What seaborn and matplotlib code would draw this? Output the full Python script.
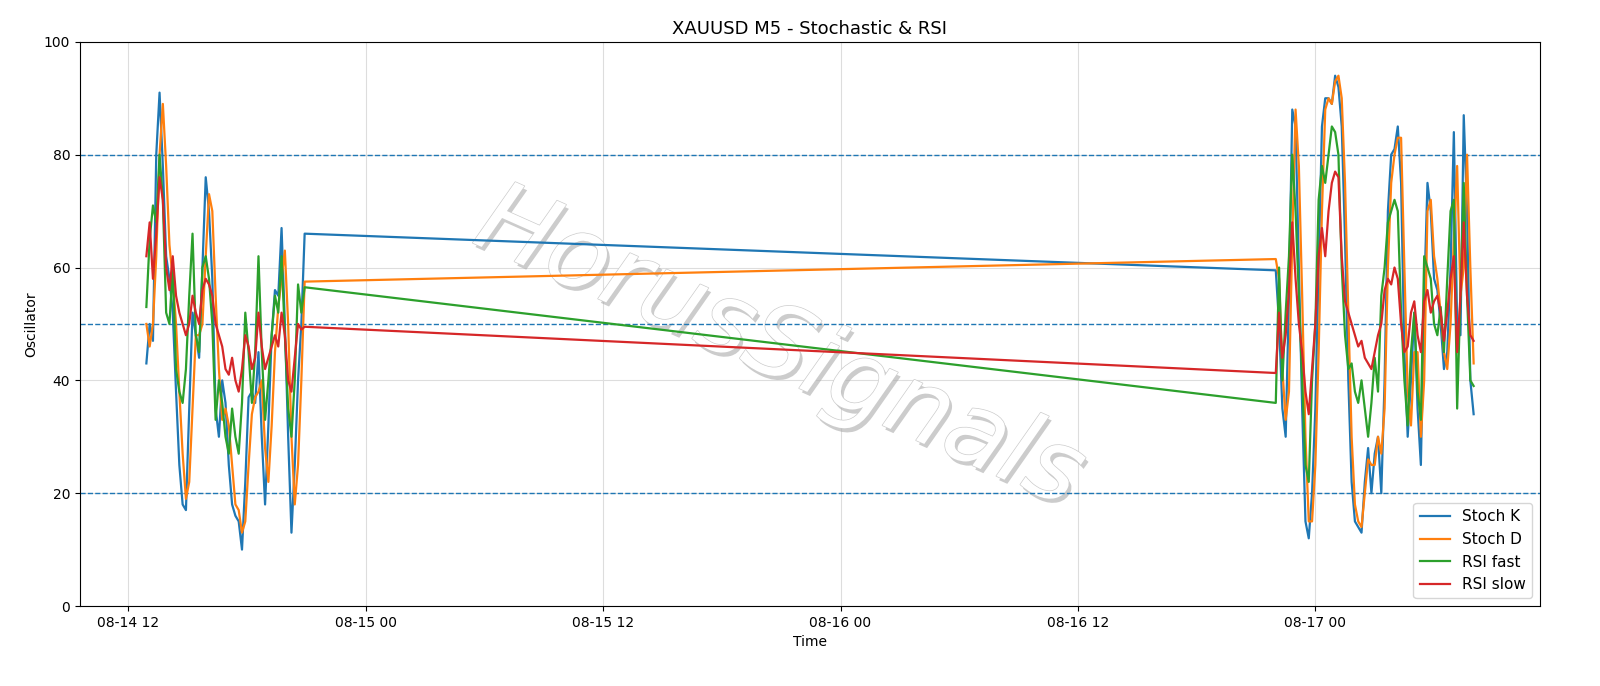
import matplotlib
matplotlib.use("Agg")
import matplotlib.pyplot as plt
import matplotlib.dates as mdates
import matplotlib.patheffects as pe
import seaborn as sns
import pandas as pd
import numpy as np

seg1_start = "2025-08-14 12:55"
seg2_start = "2025-08-16 22:00"

k1 = [43,50,47,80,91,78,62,58,52,38,25,18,17,35,52,48,44,60,76,70,58,35,30,40,36,25,18,16,15,10,22,37,38,36,45,30,18,32,48,56,55,67,50,30,13,25,40,50,66]
d1 = [50,46,50,62,80,89,78,64,58,50,38,27,19,22,35,48,48,50,62,73,70,55,42,33,35,32,25,18,17,13,15,25,34,37,38,40,28,22,32,45,53,58,63,50,30,18,25,40,57.5]
rf1 = [53,65,71,68,80,72,52,50,60,42,38,36,42,55,66,48,45,60,62,58,50,33,40,36,30,27,35,30,27,36,52,45,36,45,62,45,33,40,48,55,52,62,48,35,30,40,57,52,56.5]
rs1 = [62,68,58,66,76,72,60,56,62,55,52,50,48,50,55,52,50,56,58,57,55,50,48,46,42,41,44,40,38,42,48,46,42,44,52,46,42,44,46,48,46,52,48,40,38,44,50,49,49.5]

k2 = [59.5,50,35,30,55,88,85,60,35,15,12,20,35,60,85,90,90,89,94,92,85,65,40,22,15,14,13,22,28,20,27,30,20,40,70,80,81,85,75,45,30,40,52,35,25,55,75,70,58,56,50,42,45,60,84,50,48,87,70,40,34]
d2 = [61.5,58,42,33,38,65,88,78,55,30,15,15,25,45,70,88,90,89,93,94,90,75,52,30,18,15,14,20,26,25,25,30,27,35,60,75,80,83,83,60,38,32,45,45,30,40,70,72,62,58,52,45,42,50,65,78,55,60,80,60,43]
rf2 = [36,60,40,52,62,80,70,55,40,25,22,40,50,72,78,75,80,85,84,80,60,48,42,43,38,36,40,35,30,36,44,38,55,60,68,70,72,70,52,40,32,45,52,38,33,62,60,58,50,48,53,45,58,70,72,35,55,75,55,40,39]
rs2 = [41.3,52,44,48,56,68,58,50,45,38,34,42,50,62,67,62,70,75,77,76,62,54,52,50,48,46,47,44,43,42,45,48,50,56,58,57,60,58,50,45,46,52,54,48,45,54,56,52,54,55,52,47,52,58,62,45,55,68,55,48,47]

t1 = pd.date_range(seg1_start, periods=len(k1), freq="10min")
t2 = pd.date_range(seg2_start, periods=len(k2), freq="10min")
times = t1.append(t2)

df = pd.DataFrame({"Time": times, "Stoch K": k1 + k2, "Stoch D": d1 + d2,
                   "RSI fast": rf1 + rf2, "RSI slow": rs1 + rs2})

fig, ax = plt.subplots(figsize=(16, 6.86), dpi=100)
fig.subplots_adjust(left=0.05, right=0.9625, top=0.939, bottom=0.1166)
colors = ["#1f77b4", "#ff7f0e", "#2ca02c", "#d62728"]
for name, c in zip(["Stoch K", "Stoch D", "RSI fast", "RSI slow"], colors):
    sns.lineplot(data=df, x="Time", y=name, ax=ax, color=c, label=name, linewidth=1.6, zorder=3)

for lvl in [20, 50, 80]:
    ax.axhline(lvl, color="#1f77b4", linestyle="--", linewidth=1, zorder=2)

ax.set_ylim(0, 100)
ax.grid(True, color="#dddddd", linewidth=0.8)
ax.set_axisbelow(True)
ax.xaxis.set_major_locator(mdates.HourLocator(byhour=[0, 12]))
ax.xaxis.set_major_formatter(mdates.DateFormatter("%m-%d %H"))
ax.set_xlabel("Time")
ax.set_ylabel("Oscillator")
ax.set_title("XAUUSD M5 - Stochastic & RSI", fontsize=13)
ax.legend(loc="lower right", fontsize=11)

ax.text(0.479, 0.455, "HorusSignals", transform=ax.transAxes, ha="center", va="center",
        rotation=-24, fontsize=72, style="italic", color="white", zorder=1.5,
        path_effects=[pe.withSimplePatchShadow(offset=(2, -3), shadow_rgbFace="#aaaaaa", alpha=0.6),
                      pe.withStroke(linewidth=1.0, foreground="#cccccc")])

fig.savefig("out.png", dpi=100)
